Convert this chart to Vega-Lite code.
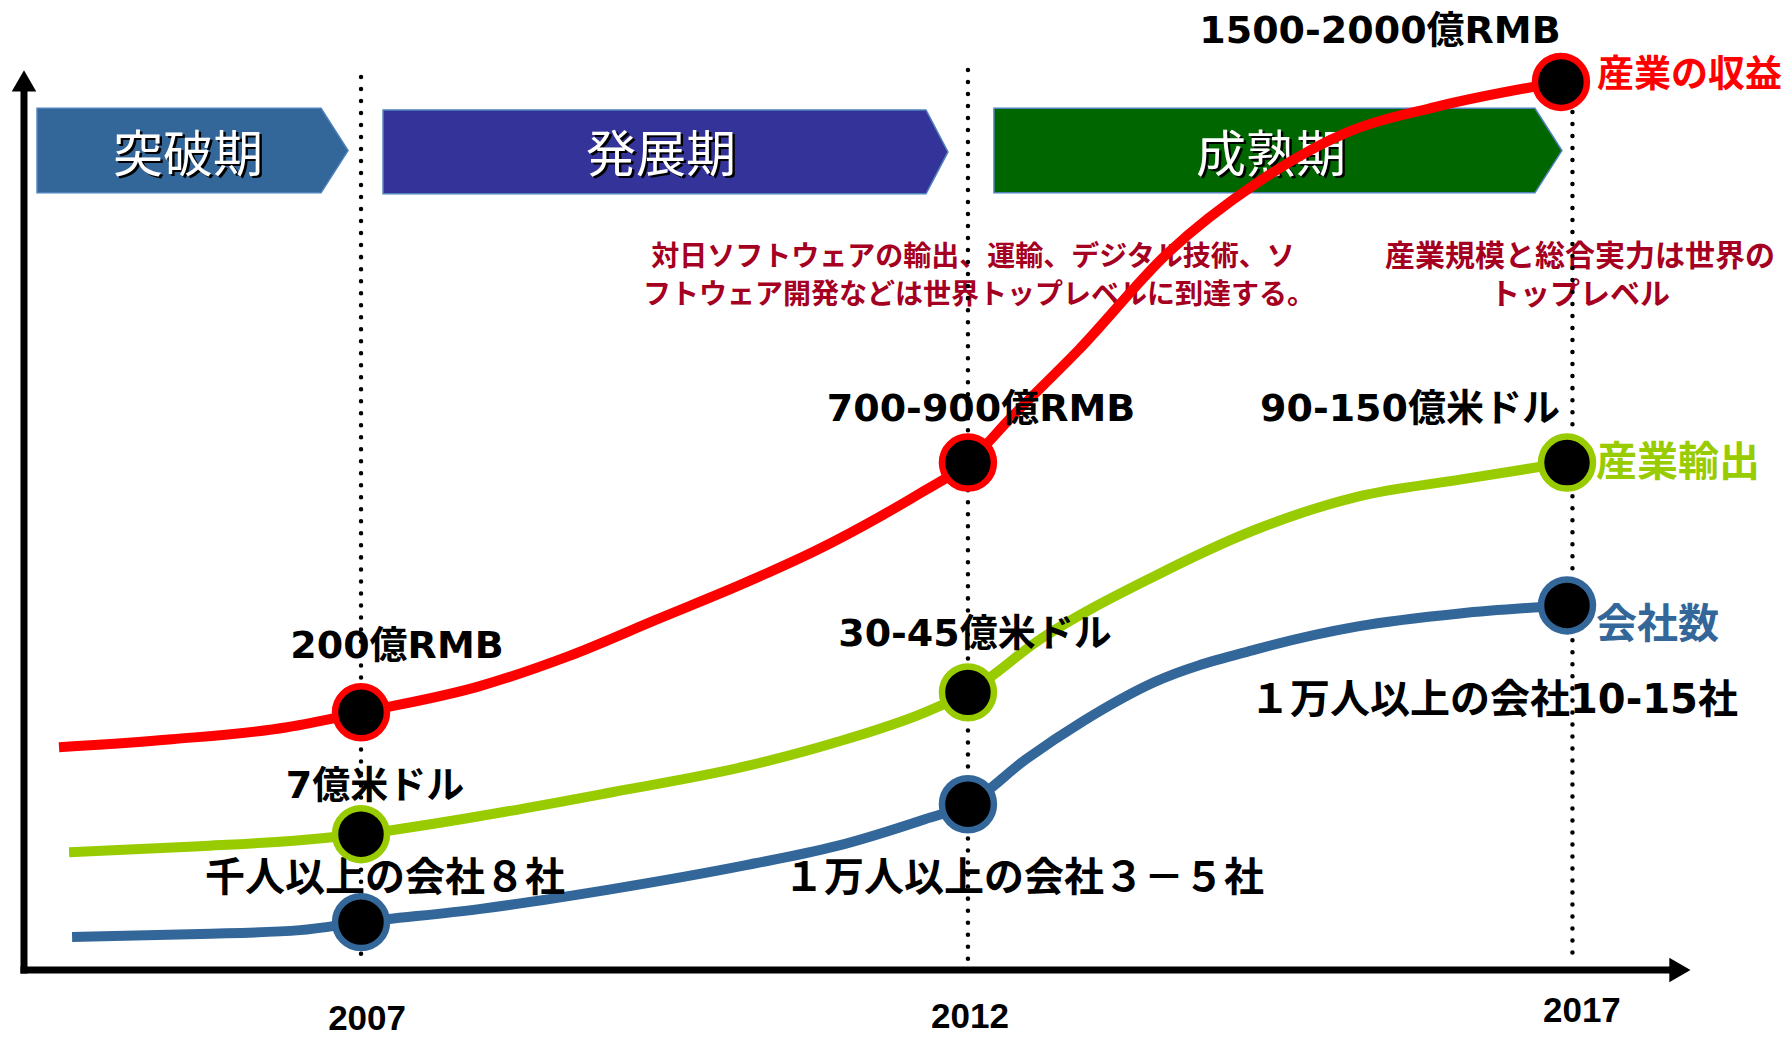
{
  "$schema": "https://vega.github.io/schema/vega-lite/v6.json",
  "width": 1787,
  "height": 1037,
  "autosize": {"type": "fit", "contains": "padding"},
  "padding": 0,
  "background": "white",
  "config": {"view": {"stroke": null}},
  "datasets": {
    "phases": [
      {"phase": "突破期", "year": 2004.326, "v": 89.55, "v2": 81.39},
      {"phase": "突破期", "year": 2006.670, "v": 89.55, "v2": 81.39},
      {"phase": "突破期", "year": 2006.893, "v": 85.47, "v2": 85.47},
      {"phase": "発展期", "year": 2007.182, "v": 89.39, "v2": 81.29},
      {"phase": "発展期", "year": 2011.664, "v": 89.39, "v2": 81.29},
      {"phase": "発展期", "year": 2011.845, "v": 85.34, "v2": 85.34},
      {"phase": "成熟期", "year": 2012.225, "v": 89.55, "v2": 81.39},
      {"phase": "成熟期", "year": 2016.690, "v": 89.55, "v2": 81.39},
      {"phase": "成熟期", "year": 2016.913, "v": 85.47, "v2": 85.47}
    ],
    "phaseLabels": [
      {"label": "突破期", "year": 2005.572, "v": 84.86},
      {"label": "発展期", "year": 2009.476, "v": 84.86},
      {"label": "成熟期", "year": 2014.511, "v": 84.86}
    ],
    "notesLeft": [
      {"label": "対日ソフトウェアの輸出、運輸、デジタル技術、ソ", "year": 2012.052, "v": 75.12},
      {"label": "フトウェア開発などは世界トップレベルに到達する。", "year": 2012.101, "v": 71.46}
    ],
    "notesRight": [
      {"label": "産業規模と総合実力は世界の", "year": 2017.062, "v": 75.22},
      {"label": "トップレベル", "year": 2017.062, "v": 71.55}
    ],
    "curves": [
      {"series": "産業の収益", "year": 2004.507, "v": 27.87},
      {"series": "産業の収益", "year": 2005.440, "v": 28.64},
      {"series": "産業の収益", "year": 2006.389, "v": 29.80},
      {"series": "産業の収益", "year": 2007.000, "v": 31.24},
      {"series": "産業の収益", "year": 2007.974, "v": 33.75},
      {"series": "産業の収益", "year": 2008.709, "v": 36.64},
      {"series": "産業の収益", "year": 2009.443, "v": 40.21},
      {"series": "産業の収益", "year": 2010.178, "v": 43.78},
      {"series": "産業の収益", "year": 2010.772, "v": 46.96},
      {"series": "産業の収益", "year": 2011.284, "v": 50.14},
      {"series": "産業の収益", "year": 2011.598, "v": 52.27},
      {"series": "産業の収益", "year": 2012.010, "v": 55.35},
      {"series": "産業の収益", "year": 2012.374, "v": 59.79},
      {"series": "産業の収益", "year": 2012.926, "v": 66.25},
      {"series": "産業の収益", "year": 2013.661, "v": 75.60},
      {"series": "産業の収益", "year": 2014.396, "v": 82.35},
      {"series": "産業の収益", "year": 2015.130, "v": 87.17},
      {"series": "産業の収益", "year": 2015.873, "v": 89.68},
      {"series": "産業の収益", "year": 2016.905, "v": 92.09},
      {"series": "産業輸出", "year": 2004.590, "v": 17.74},
      {"series": "産業輸出", "year": 2005.671, "v": 18.32},
      {"series": "産業輸出", "year": 2006.496, "v": 18.90},
      {"series": "産業輸出", "year": 2007.000, "v": 19.48},
      {"series": "産業輸出", "year": 2007.974, "v": 21.21},
      {"series": "産業輸出", "year": 2009.072, "v": 23.53},
      {"series": "産業輸出", "year": 2010.178, "v": 26.04},
      {"series": "産業輸出", "year": 2010.921, "v": 28.35},
      {"series": "産業輸出", "year": 2011.655, "v": 31.24},
      {"series": "産業輸出", "year": 2012.010, "v": 33.17},
      {"series": "産業輸出", "year": 2012.605, "v": 38.28},
      {"series": "産業輸出", "year": 2013.546, "v": 44.36},
      {"series": "産業輸出", "year": 2014.387, "v": 48.89},
      {"series": "産業輸出", "year": 2015.229, "v": 52.07},
      {"series": "産業輸出", "year": 2016.071, "v": 53.71},
      {"series": "産業輸出", "year": 2016.955, "v": 55.35},
      {"series": "会社数", "year": 2004.615, "v": 9.55},
      {"series": "会社数", "year": 2005.671, "v": 9.84},
      {"series": "会社数", "year": 2006.496, "v": 10.22},
      {"series": "会社数", "year": 2007.000, "v": 10.99},
      {"series": "会社数", "year": 2007.974, "v": 12.25},
      {"series": "会社数", "year": 2009.072, "v": 14.18},
      {"series": "会社数", "year": 2010.178, "v": 16.49},
      {"series": "会社数", "year": 2010.921, "v": 18.32},
      {"series": "会社数", "year": 2011.655, "v": 20.93},
      {"series": "会社数", "year": 2012.010, "v": 22.37},
      {"series": "会社数", "year": 2012.489, "v": 26.71},
      {"series": "会社数", "year": 2012.960, "v": 30.38},
      {"series": "会社数", "year": 2013.546, "v": 34.14},
      {"series": "会社数", "year": 2014.387, "v": 37.32},
      {"series": "会社数", "year": 2015.229, "v": 39.54},
      {"series": "会社数", "year": 2016.071, "v": 40.79},
      {"series": "会社数", "year": 2016.955, "v": 41.56}
    ],
    "milestones": [
      {"series": "産業の収益", "year": 2007.000, "v": 31.24},
      {"series": "産業の収益", "year": 2012.010, "v": 55.35},
      {"series": "産業の収益", "year": 2016.905, "v": 92.09},
      {"series": "産業輸出", "year": 2007.000, "v": 19.48},
      {"series": "産業輸出", "year": 2012.010, "v": 33.17},
      {"series": "産業輸出", "year": 2016.955, "v": 55.35},
      {"series": "会社数", "year": 2007.000, "v": 10.99},
      {"series": "会社数", "year": 2012.010, "v": 22.37},
      {"series": "会社数", "year": 2016.955, "v": 41.56}
    ],
    "valueLabels": [
      {"label": "1500-2000億RMB", "year": 2015.411, "v": 96.91},
      {"label": "700-900億RMB", "year": 2012.118, "v": 60.46},
      {"label": "90-150億米ドル", "year": 2015.659, "v": 60.46},
      {"label": "30-45億米ドル", "year": 2012.068, "v": 38.67},
      {"label": "200億RMB", "year": 2007.297, "v": 37.51},
      {"label": "7億米ドル", "year": 2007.116, "v": 24.01}
    ],
    "companyLabels": [
      {"label": "千人以上の会社８社", "year": 2007.198, "v": 15.14},
      {"label": "１万人以上の会社３－５社", "year": 2012.473, "v": 15.14},
      {"label": "１万人以上の会社10-15社", "year": 2016.352, "v": 32.30}
    ],
    "seriesLabels": [
      {"series": "産業の収益", "year": 2017.202, "v": 92.67},
      {"series": "産業輸出", "year": 2017.194, "v": 55.26},
      {"series": "会社数", "year": 2017.194, "v": 39.54}
    ],
    "dots": [
      {"year": 2007.000, "v": 92.57, "v2": 6.94},
      {"year": 2012.010, "v": 93.25, "v2": 6.94},
      {"year": 2017.000, "v": 89.20, "v2": 6.94}
    ],
    "axes": [
      {"year": 2004.218, "v": 6.36, "year2": 2004.218, "v2": 91.1},
      {"year": 2004.218, "v": 6.36, "year2": 2017.805, "v2": 6.36}
    ],
    "arrows": [
      {"dir": "up", "year": 2004.218, "v": 92.19},
      {"dir": "right", "year": 2017.887, "v": 6.36}
    ],
    "years": [
      {"label": "2007", "year": 2007.05, "v": 1.64},
      {"label": "2012", "year": 2012.027, "v": 1.83},
      {"label": "2017", "year": 2017.078, "v": 2.41}
    ]
  },
  "encoding": {
    "x": {"field": "year", "type": "quantitative", "scale": {"domain": [2004.02, 2018.771], "nice": false, "zero": false}, "axis": null},
    "y": {"field": "v", "type": "quantitative", "scale": {"domain": [0, 100], "nice": false, "zero": false}, "axis": null}
  },
  "layer": [
    {
      "data": {"name": "phases"},
      "mark": {"type": "area", "orient": "vertical", "stroke": "#4F81BD", "strokeWidth": 1.5, "fillOpacity": 1},
      "encoding": {
        "y": {"field": "v", "type": "quantitative", "stack": null, "scale": {"domain": [0, 100], "nice": false, "zero": false}, "axis": null},
        "y2": {"field": "v2"},
        "fill": {"field": "phase", "type": "nominal", "scale": {"domain": ["突破期", "発展期", "成熟期"], "range": ["#336699", "#333399", "#006600"]}, "legend": null}
      }
    },
    {
      "data": {"name": "phaseLabels"},
      "mark": {"type": "text", "align": "center", "baseline": "middle", "font": "Noto Sans CJK JP", "fontSize": 50, "fontWeight": "normal", "color": "#000000", "dx": 2.5, "dy": 2.5},
      "encoding": {"text": {"field": "label"}}
    },
    {
      "data": {"name": "phaseLabels"},
      "mark": {"type": "text", "align": "center", "baseline": "middle", "font": "Noto Sans CJK JP", "fontSize": 50, "fontWeight": "normal", "color": "#FFFFFF"},
      "encoding": {"text": {"field": "label"}}
    },
    {
      "data": {"name": "notesLeft"},
      "mark": {"type": "text", "align": "center", "baseline": "middle", "font": "Noto Sans CJK JP", "fontSize": 28, "fontWeight": "bold", "color": "#A50021"},
      "encoding": {"text": {"field": "label"}}
    },
    {
      "data": {"name": "notesRight"},
      "mark": {"type": "text", "align": "center", "baseline": "middle", "font": "Noto Sans CJK JP", "fontSize": 30, "fontWeight": "bold", "color": "#A50021"},
      "encoding": {"text": {"field": "label"}}
    },
    {
      "data": {"name": "curves"},
      "mark": {"type": "line", "interpolate": "monotone", "strokeWidth": 10, "strokeCap": "butt"},
      "encoding": {
        "stroke": {"field": "series", "type": "nominal", "scale": {"domain": ["産業の収益", "産業輸出", "会社数"], "range": ["#FF0000", "#99CC00", "#336699"]}, "legend": null}
      }
    },
    {
      "data": {"name": "valueLabels"},
      "mark": {"type": "text", "align": "center", "baseline": "middle", "font": "DejaVu Sans, Noto Sans CJK JP", "fontSize": 38, "fontWeight": "bold", "color": "#000000"},
      "encoding": {"text": {"field": "label"}}
    },
    {
      "data": {"name": "companyLabels"},
      "mark": {"type": "text", "align": "center", "baseline": "middle", "font": "DejaVu Sans, Noto Sans CJK JP", "fontSize": 40, "fontWeight": "bold", "color": "#000000"},
      "encoding": {"text": {"field": "label"}}
    },
    {
      "data": {"name": "dots"},
      "mark": {"type": "rule", "color": "#000000", "strokeWidth": 4.5, "strokeCap": "round", "strokeDash": [0.01, 12]},
      "encoding": {"y2": {"field": "v2"}}
    },
    {
      "data": {"name": "milestones"},
      "mark": {"type": "point", "shape": "circle", "filled": false, "fill": "#000000", "fillOpacity": 1, "size": 2700, "strokeWidth": 6.5, "opacity": 1},
      "encoding": {
        "stroke": {"field": "series", "type": "nominal", "scale": {"domain": ["産業の収益", "産業輸出", "会社数"], "range": ["#FF0000", "#99CC00", "#336699"]}, "legend": null}
      }
    },
    {
      "data": {"name": "seriesLabels"},
      "transform": [{"filter": "datum.series === '産業の収益'"}],
      "mark": {"type": "text", "align": "left", "baseline": "middle", "font": "Noto Sans CJK JP", "fontSize": 37, "fontWeight": "bold"},
      "encoding": {
        "text": {"field": "series"},
        "color": {"field": "series", "type": "nominal", "scale": {"domain": ["産業の収益", "産業輸出", "会社数"], "range": ["#FF0000", "#99CC00", "#336699"]}, "legend": null}
      }
    },
    {
      "data": {"name": "seriesLabels"},
      "transform": [{"filter": "datum.series !== '産業の収益'"}],
      "mark": {"type": "text", "align": "left", "baseline": "middle", "font": "Noto Sans CJK JP", "fontSize": 41, "fontWeight": "bold"},
      "encoding": {
        "text": {"field": "series"},
        "color": {"field": "series", "type": "nominal", "scale": {"domain": ["産業の収益", "産業輸出", "会社数"], "range": ["#FF0000", "#99CC00", "#336699"]}, "legend": null}
      }
    },
    {
      "data": {"name": "axes"},
      "mark": {"type": "rule", "color": "#000000", "strokeWidth": 7, "strokeCap": "square"},
      "encoding": {"x2": {"field": "year2"}, "y2": {"field": "v2"}}
    },
    {
      "data": {"name": "arrows"},
      "mark": {"type": "point", "filled": true, "color": "#000000", "size": 600, "opacity": 1, "strokeWidth": 0},
      "encoding": {
        "shape": {"field": "dir", "type": "nominal", "scale": {"domain": ["up", "right"], "range": ["triangle-up", "triangle-right"]}, "legend": null}
      }
    },
    {
      "data": {"name": "years"},
      "mark": {"type": "text", "align": "center", "baseline": "middle", "font": "Liberation Sans", "fontSize": 35, "fontWeight": "bold", "color": "#000000"},
      "encoding": {"text": {"field": "label"}}
    }
  ]
}
